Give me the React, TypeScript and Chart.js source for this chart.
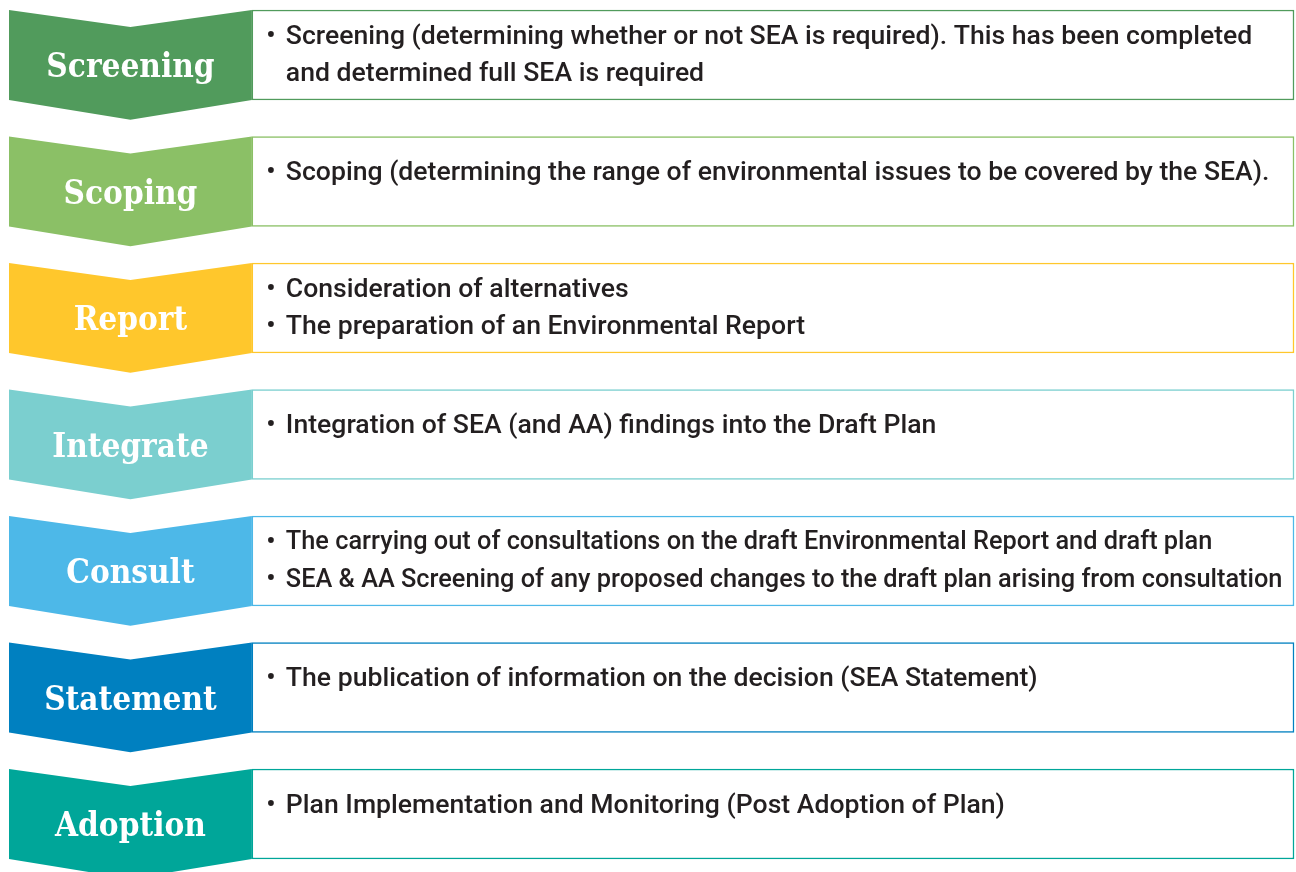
import React, { useEffect, useRef } from "react";
import { Chart, registerables } from "chart.js";

Chart.register(...registerables);

const stages = ["Screening", "Scoping", "Report", "Integrate", "Consult", "Statement", "Adoption"];

const stageColors = ["#519B5C", "#8BC066", "#FFC72C", "#7BCFCF", "#4DB8E8", "#0080C0", "#00A699"];

const screeningLines = [
  "• Screening (determining whether or not SEA is required). This has been completed",
  "and determined full SEA is required",
];
const scopingLines = ["• Scoping (determining the range of environmental issues to be covered by the SEA)."];
const reportLines = ["• Consideration of alternatives", "• The preparation of an Environmental Report"];
const integrateLines = ["• Integration of SEA (and AA) findings into the Draft Plan"];
const consultLines = [
  "• The carrying out of consultations on the draft Environmental Report and draft plan",
  "• SEA & AA Screening of any proposed changes to the draft plan arising from consultation",
];
const statementLines = ["• The publication of information on the decision (SEA Statement)"];
const adoptionLines = ["• Plan Implementation and Monitoring (Post Adoption of Plan)"];

const detailLines = [
  screeningLines,
  scopingLines,
  reportLines,
  integrateLines,
  consultLines,
  statementLines,
  adoptionLines,
];

// x-scale extents of the two parts of every row (0..100 across the diagram)
const STAGE_END = 18.9;

const BODY_SIZE = 26.6;
const bodyFont = (size: number) => `500 ${size}px Roboto, "Noto Sans", sans-serif`;

const flowPlugin = {
  id: "flowPlugin",
  afterDatasetsDraw(chart: any) {
    const ctx = chart.ctx;
    const chev = chart.getDatasetMeta(0).data;
    const boxes = chart.getDatasetMeta(1).data;
    ctx.save();
    chev.forEach((el: any, i: number) => {
      const p = el.getProps(["x", "y", "base", "height"], true);
      const left = Math.min(p.x, p.base);
      const right = Math.max(p.x, p.base);
      const top = p.y - p.height / 2;
      const bottom = p.y + p.height / 2;
      const mid = (left + right) / 2;
      const notch = p.height * 0.19;
      const point = p.height * 0.22;
      ctx.beginPath();
      ctx.moveTo(left, top);
      ctx.lineTo(mid, top + notch);
      ctx.lineTo(right, top);
      ctx.lineTo(right, bottom);
      ctx.lineTo(mid, bottom + point);
      ctx.lineTo(left, bottom);
      ctx.closePath();
      ctx.fillStyle = stageColors[i];
      ctx.fill();

      ctx.fillStyle = "#ffffff";
      ctx.font = 'bold 33px "DejaVu Serif Condensed", "DejaVu Serif", serif';
      ctx.textAlign = "center";
      ctx.textBaseline = "alphabetic";
      ctx.fillText(stages[i], mid, p.y + 22);
    });

    boxes.forEach((el: any, i: number) => {
      const p = el.getProps(["x", "y", "base", "height"], true);
      const left = Math.min(p.x, p.base);
      const right = Math.max(p.x, p.base);
      const top = p.y - p.height / 2;
      const lines = detailLines[i];
      const textX = left + 34;
      const avail = right - 11 - textX;
      ctx.font = bodyFont(BODY_SIZE);
      let widest = 0;
      lines.forEach((line: string) => {
        const t = line.startsWith("• ") ? line.slice(2) : line;
        widest = Math.max(widest, ctx.measureText(t).width);
      });
      const size = widest > avail ? (BODY_SIZE * avail) / widest : BODY_SIZE;
      const firstOffset = lines.length === 1 ? 37 : 27;
      ctx.fillStyle = "#231F20";
      ctx.textBaseline = "middle";
      lines.forEach((line: string, j: number) => {
        const y = top + firstOffset + j * 37.5;
        let text = line;
        if (line.startsWith("• ")) {
          text = line.slice(2);
          ctx.font = bodyFont(BODY_SIZE);
          ctx.textAlign = "center";
          ctx.fillText("•", left + 19, y);
        }
        ctx.font = bodyFont(size);
        ctx.textAlign = "left";
        ctx.fillText(text, textX, y);
      });
    });
    ctx.restore();
  },
};

export default function App() {
  const ref = useRef<HTMLCanvasElement | null>(null);
  useEffect(() => {
    if (!ref.current) return;
    const chart = new Chart(ref.current, {
      type: "bar",
      data: {
        labels: stages,
        datasets: [
          {
            label: "Stage",
            data: stages.map(() => [0, STAGE_END]) as any,
            backgroundColor: "rgba(0,0,0,0)",
            borderWidth: 0,
            barThickness: 90,
            grouped: false,
            clip: false as any,
          },
          {
            label: "Detail",
            data: stages.map(() => [STAGE_END, 100]) as any,
            backgroundColor: "#ffffff",
            borderColor: stageColors,
            borderWidth: 1.5,
            borderSkipped: false,
            barThickness: 90,
            grouped: false,
            clip: false as any,
          },
        ],
      },
      options: {
        indexAxis: "y",
        responsive: false,
        animation: false,
        events: [],
        layout: { padding: { left: 9, right: 2, top: 55, bottom: 58 } },
        scales: {
          y: { type: "category", offset: false, display: false },
          x: { type: "linear", min: 0, max: 100, display: false },
        },
        plugins: { legend: { display: false }, tooltip: { enabled: false } },
      },
      plugins: [flowPlugin],
    });
    if ((document as any).fonts && (document as any).fonts.ready) {
      (document as any).fonts.ready.then(() => chart.update());
    }
    return () => chart.destroy();
  }, []);
  return (
    <div style={{ position: "fixed", left: 0, top: 0, width: 1296, height: 872, overflow: "hidden", background: "#fff" }}>
      <canvas ref={ref} width={1296} height={872} style={{ display: "block" }} />
    </div>
  );
}
